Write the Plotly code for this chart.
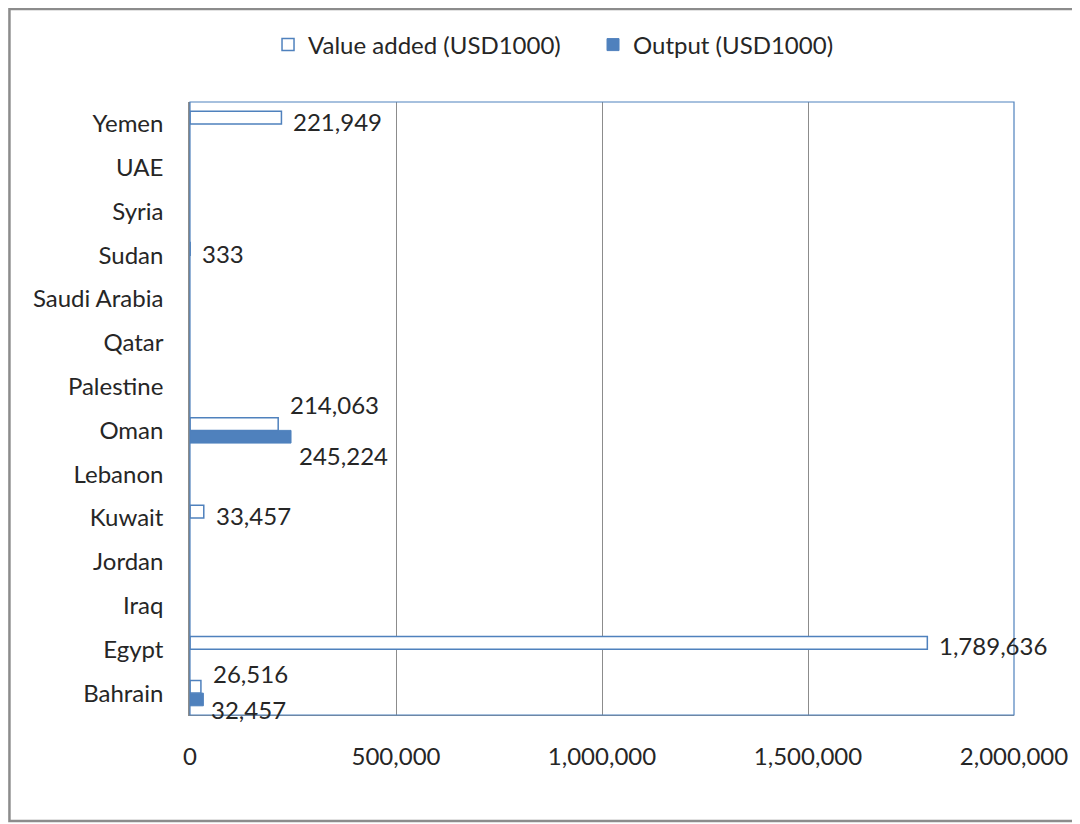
import plotly.graph_objects as go

countries = ["Bahrain", "Egypt", "Iraq", "Jordan", "Kuwait", "Lebanon", "Oman",
             "Palestine", "Qatar", "Saudi Arabia", "Sudan", "Syria", "UAE", "Yemen"]
value_added = [26516, 1789636, None, None, 33457, None, 214063,
               None, None, None, 333, None, None, 221949]
output = [32457, None, None, None, None, None, 245224,
          None, None, None, None, None, None, None]
x_ticks = [0, 500000, 1000000, 1500000, 2000000]

BLUE = "#4F81BD"
GRID = "#8C8C8C"
FONT = "Lato, Open Sans, sans-serif"
FS = 24
TXT = "#262626"

fig = go.Figure()

# output added first so that it sits below value added within each group
fig.add_trace(go.Bar(
    y=countries, x=output, orientation="h",
    name="Output (USD1000)", legendrank=2,
    marker=dict(color=BLUE, line=dict(color=BLUE, width=1)),
    hoverinfo="x+y",
))
fig.add_trace(go.Bar(
    y=countries, x=value_added, orientation="h",
    name="Value added (USD1000)", legendrank=1,
    marker=dict(color="white", line=dict(color=BLUE, width=1.5)),
    hoverinfo="x+y",
))

# data labels (manually nudged, like the original)
va_shift = {"Oman": 26, "Bahrain": 20, "Egypt": 4}
out_shift = {"Oman": -25, "Bahrain": -16}
for c, v in zip(countries, value_added):
    if v is None:
        continue
    fig.add_annotation(x=v, y=c, text=f"{v:,}", showarrow=False,
                       xanchor="left", xshift=10, yshift=va_shift.get(c, 2),
                       font=dict(size=FS, color=TXT, family=FONT))
for c, v in zip(countries, output):
    if v is None:
        continue
    fig.add_annotation(x=v, y=c, text=f"{v:,}", showarrow=False,
                       xanchor="left", xshift=6, yshift=out_shift.get(c, 0),
                       font=dict(size=FS, color=TXT, family=FONT))

# outer frame: left, top and bottom edges (right edge is off the picture)
fl, fr = -181 / 826, 1.2
fb, ft = -106 / 613, 1 + 93 / 613
fig.add_shape(type="path", xref="paper", yref="paper",
              path=f"M {fr} {ft} L {fl} {ft} L {fl} {fb} L {fr} {fb}",
              line=dict(color="#8C8C8C", width=2.5), layer="below")
# plot area border
fig.add_shape(type="rect", xref="paper", yref="paper", x0=0, x1=1, y0=0, y1=1,
              line=dict(color=BLUE, width=1.2), layer="above")

fig.update_layout(
    width=1072, height=816,
    margin=dict(l=182, r=64, t=94, b=109),
    paper_bgcolor="white", plot_bgcolor="white",
    barmode="group", bargap=0.42, bargroupgap=0,
    font=dict(family=FONT, size=FS, color=TXT),
    legend=dict(orientation="h", x=(594 - 190) / 826, xanchor="center",
                y=1 + 57 / 613, yanchor="middle", font=dict(size=FS),
                itemwidth=30, entrywidth=280, entrywidthmode="pixels"),
    xaxis=dict(range=[0, 2000000], tickvals=x_ticks, tickformat=",",
               showgrid=True, gridcolor=GRID, gridwidth=1,
               zeroline=False, showline=True, linecolor=GRID, linewidth=1,
               ticks="", ticklabelstandoff=20, tickfont=dict(size=FS)),
    yaxis=dict(range=[-0.5, 13.5], showgrid=False, showline=True,
               linecolor=GRID, linewidth=1.5,
               ticks="", ticklabelstandoff=20, tickfont=dict(size=FS),
               categoryorder="array", categoryarray=countries),
)

fig.write_html("out.html")
